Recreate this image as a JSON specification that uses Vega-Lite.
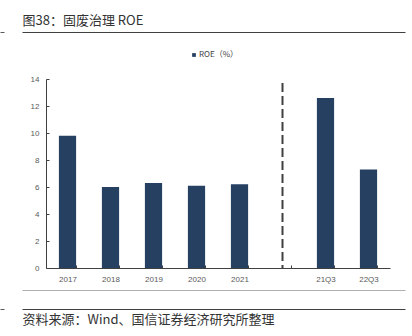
{
  "$schema": "https://vega.github.io/schema/vega-lite/v6.json",
  "width": 344,
  "height": 189,
  "autosize": {"type": "none"},
  "padding": {"left": 46, "top": 79, "right": 22, "bottom": 68},
  "background": "white",
  "datasets": {
    "roe": [
      {"period": "2017", "value": 9.8, "kind": "bar", "series": "ROE（%）"},
      {"period": "2018", "value": 6.0, "kind": "bar", "series": "ROE（%）"},
      {"period": "2019", "value": 6.3, "kind": "bar", "series": "ROE（%）"},
      {"period": "2020", "value": 6.1, "kind": "bar", "series": "ROE（%）"},
      {"period": "2021", "value": 6.2, "kind": "bar", "series": "ROE（%）"},
      {"period": "21Q3", "value": 12.6, "kind": "bar", "series": "ROE（%）"},
      {"period": "22Q3", "value": 7.3, "kind": "bar", "series": "ROE（%）"},
      {"period": "gap", "value": 13.7, "kind": "divider", "series": "divider"}
    ],
    "deco": [{"d": 0}]
  },
  "config": {
    "view": {"stroke": null},
    "axis": {"grid": false}
  },
  "resolve": {"scale": {"x": "independent"}, "axis": {"x": "independent"}},
  "layer": [
    {
      "data": {"name": "roe"},
      "encoding": {
        "x": {
          "field": "period",
          "type": "nominal",
          "scale": {
            "domain": ["2017", "2018", "2019", "2020", "2021", "gap", "21Q3", "22Q3"],
            "paddingInner": 0.6,
            "paddingOuter": 0.3
          },
          "axis": {
            "title": null,
            "labelExpr": "datum.value == 'gap' ? '' : datum.value",
            "labelAngle": 0,
            "labelFont": "Liberation Sans",
            "labelFontSize": 8,
            "labelColor": "#595959",
            "labelPadding": 10,
            "domainColor": "#404040",
            "tickColor": "#404040",
            "tickSize": -3,
            "tickBand": "extent"
          }
        },
        "y": {
          "field": "value",
          "type": "quantitative",
          "scale": {"domain": [0, 14], "nice": false},
          "axis": {
            "title": null,
            "values": [0, 2, 4, 6, 8, 10, 12, 14],
            "labelOverlap": false,
            "labelFont": "Liberation Sans",
            "labelFontSize": 8,
            "labelColor": "#595959",
            "labelPadding": 10,
            "domainColor": "#404040",
            "tickColor": "#404040",
            "tickSize": -3
          }
        }
      },
      "layer": [
        {
          "transform": [{"filter": "datum.kind == 'bar'"}],
          "mark": {"type": "bar"},
          "encoding": {
            "color": {
              "field": "series",
              "type": "nominal",
              "scale": {"range": ["#264062"]},
              "legend": {
                "title": null,
                "orient": "none",
                "legendX": 144,
                "legendY": -28,
                "symbolType": "square",
                "symbolSize": 14,
                "symbolStrokeWidth": 0,
                "labelFont": "Noto Sans CJK SC",
                "labelFontSize": 8,
                "labelColor": "#404040",
                "labelOffset": 1
              }
            }
          }
        },
        {
          "transform": [{"filter": "datum.kind == 'divider'"}],
          "mark": {"type": "rule", "strokeDash": [9, 4], "strokeWidth": 2, "color": "#404040"},
          "encoding": {
            "y2": {"datum": 0}
          }
        }
      ]
    },
    {
      "data": {"name": "deco"},
      "mark": {"type": "rule", "opacity": 0},
      "encoding": {
        "x": {
          "field": "d",
          "type": "quantitative",
          "scale": {"domain": [0, 1], "range": [-24, 359]},
          "axis": {
            "orient": "top",
            "offset": 47,
            "domainColor": "#404040",
            "ticks": false,
            "labels": false,
            "title": "图38：固废治理 ROE",
            "titleAnchor": "start",
            "titleAlign": "left",
            "titlePadding": 5,
            "titleFont": "Noto Sans CJK SC",
            "titleFontSize": 13,
            "titleFontWeight": "normal",
            "titleColor": "#333333"
          }
        }
      }
    },
    {
      "data": {"name": "deco"},
      "mark": {"type": "rule", "opacity": 0},
      "encoding": {
        "x": {
          "field": "d",
          "type": "quantitative",
          "scale": {"domain": [0, 1], "range": [-46, -42]},
          "axis": {
            "orient": "top",
            "offset": 47,
            "domainColor": "#595959",
            "ticks": false,
            "labels": false,
            "title": null
          }
        }
      }
    },
    {
      "data": {"name": "deco"},
      "mark": {"type": "rule", "opacity": 0},
      "encoding": {
        "x": {
          "field": "d",
          "type": "quantitative",
          "scale": {"domain": [0, 1], "range": [-24, 359]},
          "axis": {
            "orient": "bottom",
            "offset": 22,
            "domainColor": "#AFAFAF",
            "ticks": false,
            "labels": false,
            "title": null
          }
        }
      }
    },
    {
      "data": {"name": "deco"},
      "mark": {"type": "rule", "opacity": 0},
      "encoding": {
        "x": {
          "field": "d",
          "type": "quantitative",
          "scale": {"domain": [0, 1], "range": [-24, 359]},
          "axis": {
            "orient": "bottom",
            "offset": 41,
            "domainColor": "#404040",
            "ticks": false,
            "labels": false,
            "title": "资料来源：Wind、国信证券经济研究所整理",
            "titleAnchor": "start",
            "titleAlign": "left",
            "titlePadding": 4,
            "titleFont": "Noto Sans CJK SC",
            "titleFontSize": 13,
            "titleFontWeight": "normal",
            "titleColor": "#333333"
          }
        }
      }
    },
    {
      "data": {"name": "deco"},
      "mark": {"type": "rule", "opacity": 0},
      "encoding": {
        "x": {
          "field": "d",
          "type": "quantitative",
          "scale": {"domain": [0, 1], "range": [-46, -42]},
          "axis": {
            "orient": "bottom",
            "offset": 41,
            "domainColor": "#595959",
            "ticks": false,
            "labels": false,
            "title": null
          }
        }
      }
    }
  ]
}
